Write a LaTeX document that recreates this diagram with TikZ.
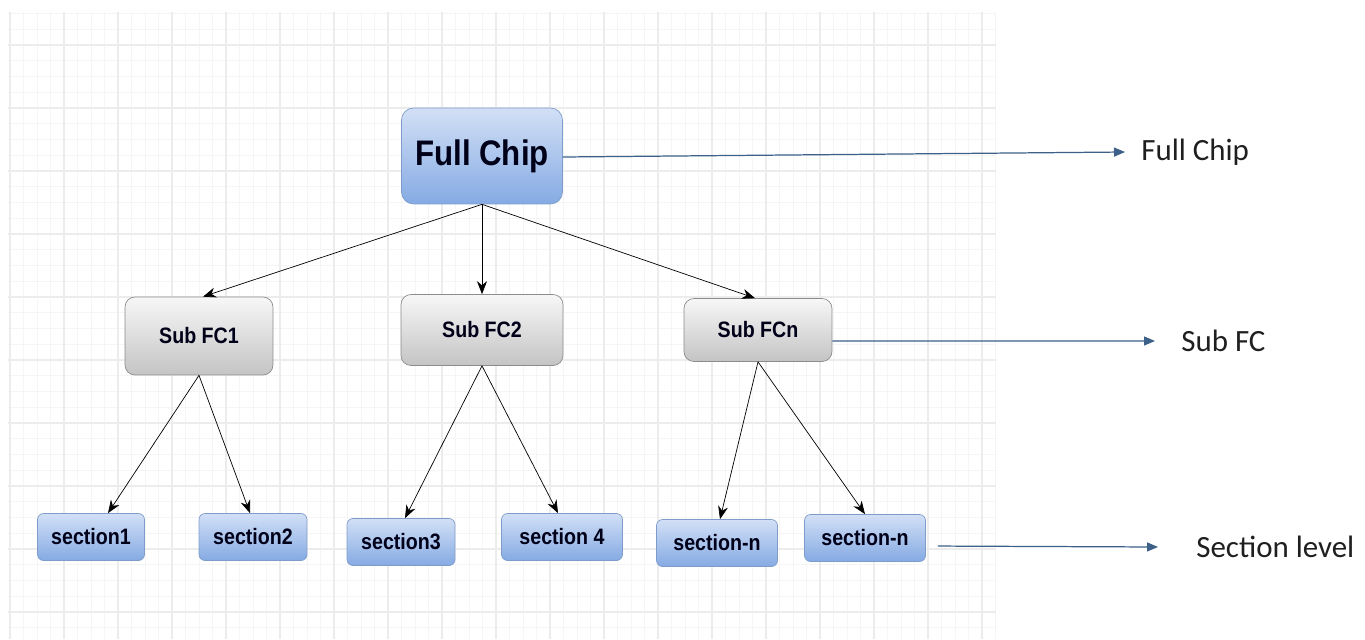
\documentclass[tikz,border=0pt]{standalone}
\usepackage{fontspec}
\setmainfont{Liberation Sans}
\newfontfamily\tagfont{Carlito}
\newfontfamily\boxfont[FakeStretch=0.88]{Liberation Sans Bold}
\usepackage{tikz}
\usetikzlibrary{arrows,arrows.meta,calc,positioning}

\definecolor{gridlo}{HTML}{F5F5F5}
\definecolor{gridhi}{HTML}{ECECEC}
\definecolor{bluetop}{HTML}{D2E0F6}
\definecolor{bluebot}{HTML}{85AAE3}
\definecolor{blueline}{HTML}{7E9CC9}
\definecolor{greytop}{HTML}{F7F7F7}
\definecolor{greybot}{HTML}{C4C4C4}
\definecolor{greyline}{HTML}{8C8C8C}
\definecolor{tagline}{HTML}{3C6088}

\begin{document}
\begin{tikzpicture}[x=0.02cm,y=-0.02cm]
	\tikzstyle{chip} = [draw = blueline, rounded corners = 0.24cm, top color = bluetop, bottom color = bluebot, font = \boxfont\fontsize{20.2}{22}\selectfont, text = black!90!blue, minimum width = 3.22cm, minimum height = 1.92cm]
	\tikzstyle{sub} = [draw = greyline, rounded corners = 0.2cm, top color = greytop, bottom color = greybot, font = \boxfont\fontsize{12.7}{14}\selectfont, text = black!90!blue]
	\tikzstyle{sect} = [draw = blueline, rounded corners = 0.12cm, top color = bluetop, bottom color = bluebot, font = \boxfont\fontsize{12.7}{14}\selectfont, text = black!90!blue, minimum height = 0.94cm]
	\tikzstyle{tag} = [font = \tagfont\fontsize{17.6}{20}\selectfont, text = black!88, anchor = west, inner sep = 0pt]
	\tikzstyle{link} = [draw = black, thin, -{Stealth[length=2.6mm, width=2mm]}]
	\tikzstyle{tagarrow} = [draw = tagline, line width = 0.7pt, -{Triangle[length=2.2mm, width=1.8mm]}]

	\useasboundingbox (0,0) rectangle (1365,639);

	% grid paper
	\foreach \x in {10,23.5,...,997} \draw[gridlo, line width = 0.4pt] (\x,12) -- (\x,639);
	\foreach \y in {13.5,29.25,...,639} \draw[gridlo, line width = 0.4pt] (8,\y) -- (996,\y);
	\foreach \x in {10,64,...,997} \draw[gridhi, line width = 0.6pt] (\x,12) -- (\x,639);
	\foreach \y in {45,108,...,639} \draw[gridhi, line width = 0.6pt] (8,\y) -- (996,\y);

	% top
\node[chip] (0) at (482, 156) {Full Chip};

	% sub level
\node[sub, minimum width = 2.96cm, minimum height = 1.56cm] (1) at (199, 336) {Sub FC1};
\node[sub, minimum width = 3.24cm, minimum height = 1.42cm] (2) at (482, 330) {Sub FC2};
\node[sub, minimum width = 2.96cm, minimum height = 1.26cm] (3) at (758, 330) {Sub FCn};

	% sections
\node[sect, minimum width = 2.14cm] (4) at (91, 537) {section1};
\node[sect, minimum width = 2.16cm] (5) at (253, 537) {section2};
\node[sect, minimum width = 2.16cm] (6) at (401, 542) {section3};
\node[sect, minimum width = 2.42cm] (7) at (562, 537) {section 4};
\node[sect, minimum width = 2.42cm] (8) at (717, 543) {section-n};
\node[sect, minimum width = 2.42cm] (9) at (865, 538) {section-n};

	% level names
\node[tag] (10) at (1141, 152) {Full Chip};
\node[tag] (11) at (1181, 341) {Sub FC};
\node[tag] (12) at (1196, 547) {Section level};

	\path[link] (0.south) -- ([xshift = 0.08cm]1.north);
	\path[link] (0.south) -- (2.north);
	\path[link] (0.south) -- ([xshift = -0.06cm]3.north);
	\path[link] (1.south) -- ([xshift = 0.34cm]4.north);
	\path[link] (1.south) -- ([xshift = -0.06cm]5.north);
	\path[link] (2.south) -- ([xshift = 0.08cm]6.north);
	\path[link] (2.south) -- ([xshift = -0.08cm]7.north);
	\path[link] (3.south) -- ([xshift = 0.06cm]8.north);
	\path[link] (3.south) -- (9.north);

	\path[tagarrow] ([yshift = -0.02cm]0.east) -- ([xshift = -0.32cm]10.west);
	\path[tagarrow] ([yshift = -0.22cm]3.east) -- ([xshift = -0.52cm]11.west);
	\path[tagarrow, shorten < = 0.24cm] ([yshift = -0.16cm]9.east) -- ([xshift = -0.76cm]12.west);
\end{tikzpicture}
\end{document}
